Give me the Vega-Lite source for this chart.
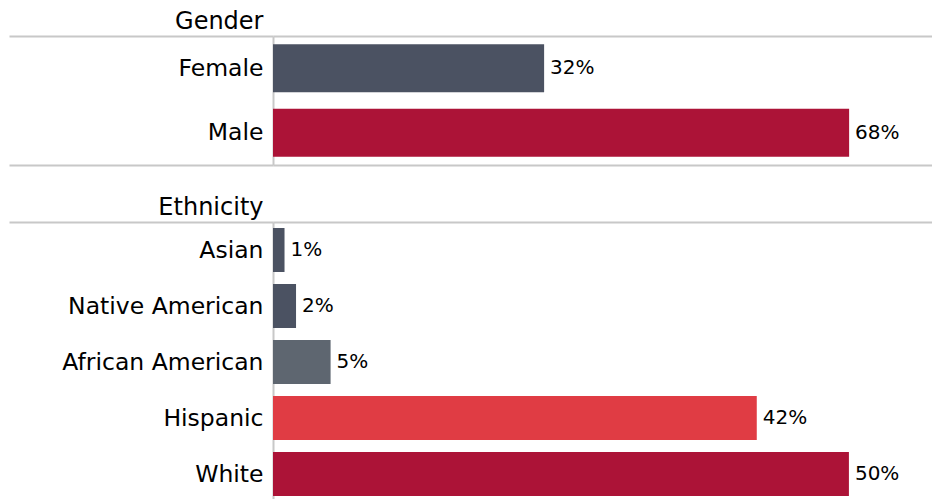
{
  "$schema": "https://vega.github.io/schema/vega-lite/v6.json",
  "padding": {"left": 8, "top": 9, "right": 0, "bottom": 0},
  "background": "white",
  "spacing": 29,
  "datasets": {
    "gender": [
      {"category": "Female", "pct": 0.32},
      {"category": "Male", "pct": 0.68}
    ],
    "ethnicity": [
      {"category": "Asian", "pct": 0.01},
      {"category": "Native American", "pct": 0.02},
      {"category": "African American", "pct": 0.05},
      {"category": "Hispanic", "pct": 0.42},
      {"category": "White", "pct": 0.50}
    ]
  },
  "config": {
    "view": {"stroke": null},
    "font": "DejaVu Sans",
    "axis": {
      "domainColor": "#c8c8c8",
      "domainWidth": 2,
      "tickColor": "#c8c8c8",
      "tickWidth": 2,
      "gridColor": "#c8c8c8",
      "gridWidth": 2,
      "labelLimit": 400
    }
  },
  "vconcat": [
    {
      "width": 660,
      "height": 129,
      "data": {"name": "gender"},
      "encoding": {
        "y": {
          "field": "category",
          "type": "nominal",
          "sort": null,
          "scale": {"paddingInner": 0, "paddingOuter": 0},
          "axis": {
            "title": "Gender",
            "titleAngle": 0,
            "titleAlign": "right",
            "titleBaseline": "alphabetic",
            "titleX": -10,
            "titleY": -8,
            "titleFontSize": 24,
            "titleFontWeight": "normal",
            "titleColor": "#000000",
            "tickBand": "extent",
            "tickSize": 264,
            "labelPadding": -254,
            "labelFontSize": 23.5,
            "labelColor": "#000000",
            "grid": true,
            "tickOpacity": {"condition": {"test": "datum.value === 'Female'", "value": 0}, "value": 1},
            "gridOpacity": {"condition": {"test": "datum.value === 'Female'", "value": 0}, "value": 1}
          }
        },
        "x": {
          "field": "pct",
          "type": "quantitative",
          "scale": {"domain": [0, 0.779], "nice": false},
          "axis": null
        }
      },
      "layer": [
        {
          "mark": {"type": "bar", "height": {"band": 0.745}},
          "encoding": {
            "color": {
              "field": "category",
              "type": "nominal",
              "scale": {
                "domain": ["Female", "Male", "Asian", "Native American", "African American", "Hispanic", "White"],
                "range": ["#4b5262", "#ac1337", "#4b5262", "#4b5262", "#5e6670", "#e03c44", "#ac1337"]
              },
              "legend": null
            }
          }
        },
        {
          "mark": {"type": "text", "align": "left", "baseline": "middle", "dx": 6, "fontSize": 20, "color": "#000000"},
          "encoding": {
            "text": {"field": "pct", "type": "quantitative", "format": ".0%"}
          }
        }
      ]
    },
    {
      "width": 660,
      "height": 280,
      "data": {"name": "ethnicity"},
      "encoding": {
        "y": {
          "field": "category",
          "type": "nominal",
          "sort": null,
          "scale": {"paddingInner": 0, "paddingOuter": 0},
          "axis": {
            "title": "Ethnicity",
            "titleAngle": 0,
            "titleAlign": "right",
            "titleBaseline": "alphabetic",
            "titleX": -10,
            "titleY": -8,
            "titleFontSize": 24,
            "titleFontWeight": "normal",
            "titleColor": "#000000",
            "tickBand": "extent",
            "tickSize": 264,
            "labelPadding": -254,
            "labelFontSize": 23.5,
            "labelColor": "#000000",
            "grid": true,
            "tickOpacity": {"condition": {"test": "datum.value", "value": 0}, "value": 1},
            "gridOpacity": {"condition": {"test": "datum.value", "value": 0}, "value": 1}
          }
        },
        "x": {
          "field": "pct",
          "type": "quantitative",
          "scale": {"domain": [0, 0.573], "nice": false},
          "axis": null
        }
      },
      "layer": [
        {
          "mark": {"type": "bar", "height": {"band": 0.786}},
          "encoding": {
            "color": {
              "field": "category",
              "type": "nominal",
              "scale": {
                "domain": ["Female", "Male", "Asian", "Native American", "African American", "Hispanic", "White"],
                "range": ["#4b5262", "#ac1337", "#4b5262", "#4b5262", "#5e6670", "#e03c44", "#ac1337"]
              },
              "legend": null
            }
          }
        },
        {
          "mark": {"type": "text", "align": "left", "baseline": "middle", "dx": 6, "fontSize": 20, "color": "#000000"},
          "encoding": {
            "text": {"field": "pct", "type": "quantitative", "format": ".0%"}
          }
        }
      ]
    }
  ]
}
